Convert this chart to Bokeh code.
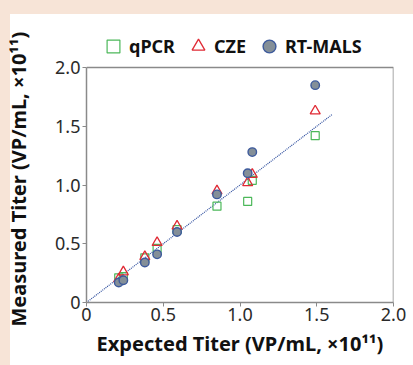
from bokeh.plotting import figure
from bokeh.models import FixedTicker, Legend, LegendItem, Range1d
from bokeh.embed import file_html
from bokeh.resources import INLINE

# Data (×10^11 VP/mL)
mals_expected = [0.21, 0.24, 0.38, 0.46, 0.59, 0.85, 1.05, 1.08, 1.49]
mals_measured = [0.17, 0.19, 0.34, 0.41, 0.60, 0.92, 1.10, 1.28, 1.85]

cze_expected = [0.21, 0.24, 0.38, 0.46, 0.59, 0.85, 1.05, 1.08, 1.49]
cze_measured = [0.20, 0.26, 0.39, 0.51, 0.65, 0.95, 1.02, 1.09, 1.63]

qpcr_expected = [0.21, 0.24, 0.38, 0.46, 0.59, 0.85, 1.05, 1.08, 1.49]
qpcr_measured = [0.21, 0.22, 0.38, 0.46, 0.62, 0.82, 0.86, 1.04, 1.42]

fit_x = [0.0, 1.6]
fit_y = [0.0, 1.6]

# plot box (top and right edges of the 0..2 region)
box_x = [0.0, 2.0, 2.0]
box_y = [2.0, 2.0, 0.0]

ticks = [0, 0.5, 1.0, 1.5, 2.0]
tick_labels = {0: "0", 0.5: "0.5", 1: "1.0", 1.5: "1.5", 2: "2.0"}

FONT = "Noto Sans"
AXIS_GREY = "#8a8a8a"

p = figure(width=413, height=365, output_backend="svg", toolbar_location=None,
           x_range=Range1d(0, 2.0), y_range=Range1d(0, 2.366),
           min_border_left=86, min_border_right=20, min_border_top=24, min_border_bottom=63)
p.background_fill_color = "white"
p.border_fill_color = "white"
p.border_fill_alpha = 0
p.outline_line_color = None
p.grid.visible = False

p.line(box_x, box_y, line_color=AXIS_GREY, line_width=1.5)
p.line(fit_x, fit_y, line_color="#2f4f9f", line_width=1.2, line_dash="1 1")

r_q = p.scatter(qpcr_expected, qpcr_measured, marker="square", size=8,
                fill_color=None, line_color="#4cb85a", line_width=1.2)
r_c = p.scatter(cze_expected, cze_measured, marker="triangle", size=10,
                fill_color=None, line_color="#e02a35", line_width=1.3)
r_m = p.scatter(mals_expected, mals_measured, marker="circle", size=8.5,
                fill_color="#848f98", line_color="#3d5a9c", line_width=1.4)

for ax in (p.xaxis[0], p.yaxis[0]):
    ax.bounds = (0, 2)
    ax.ticker = FixedTicker(ticks=ticks)
    ax.major_label_overrides = tick_labels
    ax.axis_line_color = AXIS_GREY
    ax.axis_line_width = 1.5
    ax.major_tick_line_color = AXIS_GREY
    ax.major_tick_in = 0
    ax.major_tick_out = 4
    ax.minor_tick_line_color = None
    ax.major_label_text_font = FONT
    ax.major_label_text_font_size = "18px"
    ax.major_label_text_color = "#2a2a2a"
    ax.axis_label_text_font = FONT
    ax.axis_label_text_font_size = "20px"
    ax.axis_label_text_font_style = "bold"
    ax.axis_label_text_color = "#111111"

p.xaxis.axis_label = "Expected Titer (VP/mL, ×10¹¹)"
p.yaxis.axis_label = "Measured Titer (VP/mL, ×10¹¹)" + "\u00a0" * 6
p.xaxis.major_label_standoff = 1
p.yaxis.major_label_standoff = 2
p.xaxis.axis_label_standoff = 6
p.yaxis.axis_label_standoff = 20

legend = Legend(items=[LegendItem(label="qPCR", renderers=[r_q]),
                       LegendItem(label="CZE", renderers=[r_c]),
                       LegendItem(label="RT-MALS", renderers=[r_m])],
                orientation="horizontal", location=(11, 240))
legend.label_text_font = FONT
legend.label_text_font_size = "18px"
legend.label_text_font_style = "bold"
legend.label_text_color = "#111111"
legend.border_line_color = None
legend.background_fill_alpha = 0
legend.glyph_width = 32
legend.glyph_height = 32
legend.label_standoff = 0
legend.spacing = 7
legend.padding = 2
legend.margin = 0
p.add_layout(legend, "center")

css = ("<style>html,body{margin:0;padding:0;background-color:#ffffff;"
       "background-image:linear-gradient(to right,#f7e4d7 10px,transparent 10px),"
       "linear-gradient(to bottom,#f7e4d7 14px,#ffffff 14px);}</style>")
html = file_html(p, INLINE)
html = html.replace("</head>", css + "</head>", 1)
open("out.html", "w").write(html)
